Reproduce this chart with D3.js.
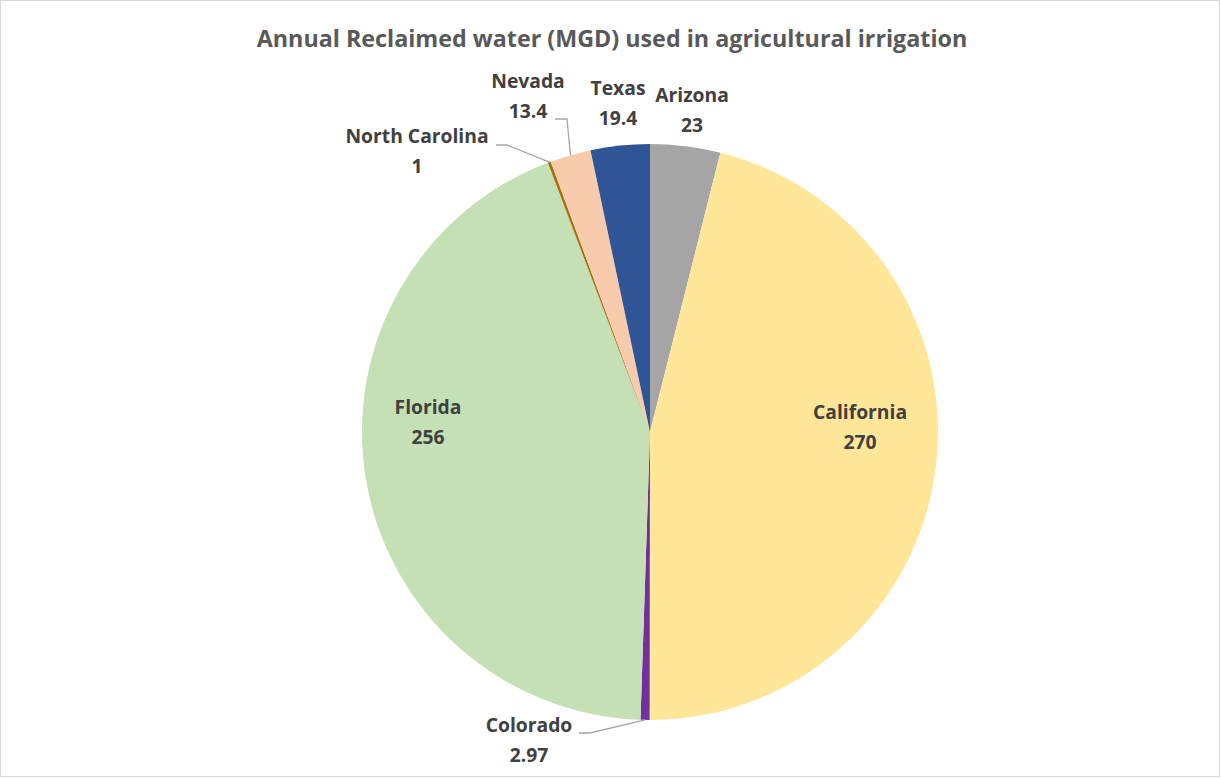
<!DOCTYPE html>
<html>
<head>
<meta charset="utf-8">
<script src="https://cdn.jsdelivr.net/npm/d3@7"></script>
<style>
  body { margin: 0; background: #fff; }
  svg { display: block; }
</style>
</head>
<body>
<svg id="chart" width="1221" height="778"></svg>
<script>
// data
const states = ['Arizona', 'California', 'Colorado', 'Florida', 'North Carolina', 'Nevada', 'Texas'];
const mgd = [23, 270, 2.97, 256, 1, 13.4, 19.4];
const valueLabels = ['23', '270', '2.97', '256', '1', '13.4', '19.4'];

// styling
const colors = ['#a5a5a5', '#ffe699', '#7030a0', '#c5e0b4', '#a8700c', '#f8cbad', '#2f5597'];
const font = '"Open Sans", Arial, sans-serif';

const svg = d3.select('#chart');
const width = 1221, height = 778;
const cx = 650, cy = 432, radius = 288;

// chart border
svg.append('rect')
  .attr('x', 0.5).attr('y', 0.5)
  .attr('width', width - 2).attr('height', height - 2)
  .attr('fill', '#fff')
  .attr('stroke', '#d9d9d9');

// title
svg.append('text')
  .attr('x', 612)
  .attr('y', 47)
  .attr('text-anchor', 'middle')
  .attr('font-family', font)
  .attr('font-weight', 'bold')
  .attr('font-size', '23.3px')
  .attr('fill', '#595959')
  .text('Annual Reclaimed water (MGD) used in agricultural irrigation');

const rows = states.map((s, i) => ({ state: s, value: mgd[i], label: valueLabels[i], color: colors[i] }));

const pie = d3.pie().sort(null).value(d => d.value);
const arc = d3.arc().innerRadius(0).outerRadius(radius);
const arcs = pie(rows);

const g = svg.append('g').attr('transform', `translate(${cx},${cy})`);

g.selectAll('path')
  .data(arcs)
  .enter().append('path')
  .attr('d', arc)
  .attr('fill', d => d.data.color);

// label placement relative to pie centre (dx = middle of text, dy = first baseline)
// leader: elbow for the small outside slices
const labelPos = {
  'Arizona':        { dx: 42,   dy: -330, leader: null },
  'California':     { dx: 210,  dy: -13,  leader: null },
  'Colorado':       { dx: -121, dy: 300,  leader: { x0: -71, y: 301, x1: -60 } },
  'Florida':        { dx: -222, dy: -18,  leader: null },
  'North Carolina': { dx: -233, dy: -289, leader: { x0: -154, y: -287, x1: -143 } },
  'Nevada':         { dx: -122, dy: -344, leader: { x0: -95, y: -313, x1: -83 } },
  'Texas':          { dx: -32,  dy: -337, leader: null }
};

const edge = d3.arc().innerRadius(radius).outerRadius(radius);

arcs.forEach(d => {
  const p = labelPos[d.data.state];
  if (p.leader) {
    const [ex, ey] = edge.centroid(d);
    const pts = [[p.leader.x0, p.leader.y], [p.leader.x1, p.leader.y], [ex, ey]];
    g.append('path')
      .attr('d', d3.line()(pts))
      .attr('fill', 'none')
      .attr('stroke', '#a6a6a6')
      .attr('stroke-width', 1.3);
  }
  const t = g.append('text')
    .attr('text-anchor', 'middle')
    .attr('font-family', font)
    .attr('font-weight', 'bold')
    .attr('font-size', '19.3px')
    .attr('fill', '#404040');
  t.append('tspan').attr('x', p.dx).attr('y', p.dy).text(d.data.state);
  t.append('tspan').attr('x', p.dx).attr('y', p.dy + 30).text(d.data.label);
});
</script>
</body>
</html>
